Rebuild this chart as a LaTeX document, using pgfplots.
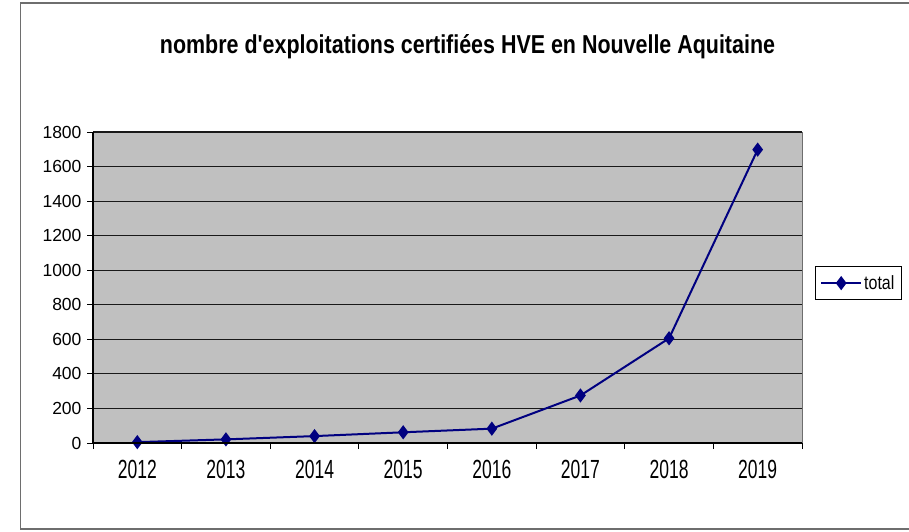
\documentclass[border=0pt]{standalone}
\usepackage{pgfplots}
\pgfplotsset{compat=1.18}
\usepackage{fontspec}
\setmainfont{Liberation Sans}
\definecolor{navy}{RGB}{0,0,128}
\definecolor{plotgray}{RGB}{192,192,192}
\definecolor{framegray}{RGB}{110,110,110}
\newcommand\xl[1]{\scalebox{1}[1.5]{#1}}
\begin{document}
\begin{tikzpicture}[x=1pt,y=1pt]
\path[use as bounding box] (0pt,0pt) rectangle (909pt,531pt);
\draw[framegray, line width=1.5pt] (920pt,528pt) -- (20.5pt,528pt) -- (20.5pt,2pt) -- (920pt,2pt);
\node[anchor=base] at (467.5pt,477pt) {\resizebox{615pt}{19pt}{\fontsize{23.7}{26}\selectfont\bfseries nombre d\textquotesingle exploitations certifiées HVE en Nouvelle Aquitaine}};
\begin{axis}[
  at={(93pt,88pt)}, anchor=south west,
  width=709pt, height=311pt, scale only axis,
  xmin=-0.5, xmax=7.5, ymin=0, ymax=1800,
  xtick={0,...,7},
  xticklabels={\xl{2012},\xl{2013},\xl{2014},\xl{2015},\xl{2016},\xl{2017},\xl{2018},\xl{2019}},
  minor xtick={-0.5,0.5,...,7.5},
  ytick={0,200,...,1800},
  tick pos=left,
  tick align=outside,
  major tick length=6pt, minor tick length=6pt,
  x tick style={draw=none},
  minor x tick style={draw=black, line width=0.8pt},
  y tick style={black, line width=0.8pt},
  ymajorgrids,
  grid style={black!90, line width=1.2pt},
  axis line style={draw=none},
  axis background/.style={fill=plotgray},
  /pgf/number format/assume math mode=true,
  /pgf/number format/set thousands separator={},
  tick label style={font=\fontsize{17.5}{18}\selectfont},
  xticklabel style={yshift=-8pt},
  yticklabel style={xshift=-2pt},
  legend style={at={(1.018,0.569)}, anchor=north west, draw=black, line width=0.8pt,
    font=\fontsize{16}{16}\selectfont, inner xsep=5pt, inner ysep=7pt},
  legend image code/.code={\draw[mark repeat=2,mark phase=2,#1] plot coordinates {(0pt,0pt) (20pt,0pt) (40pt,0pt)};},
  after end axis/.code={
    \draw[framegray, line width=1pt] (rel axis cs:1,0) -- (rel axis cs:1,1);
    \draw[black, line width=1.2pt] (rel axis cs:0,1) -- (rel axis cs:0,0) -- (rel axis cs:1,0);
  },
]
\addplot[navy, line width=2pt, mark=diamond*, mark size=5.5pt, mark options={solid, fill=navy}]
  coordinates {(0,5) (1,21) (2,40) (3,62) (4,83) (5,275) (6,606) (7,1698)};
\addlegendentry{\scalebox{1}[1.2]{total}}
\end{axis}
\end{tikzpicture}
\end{document}
